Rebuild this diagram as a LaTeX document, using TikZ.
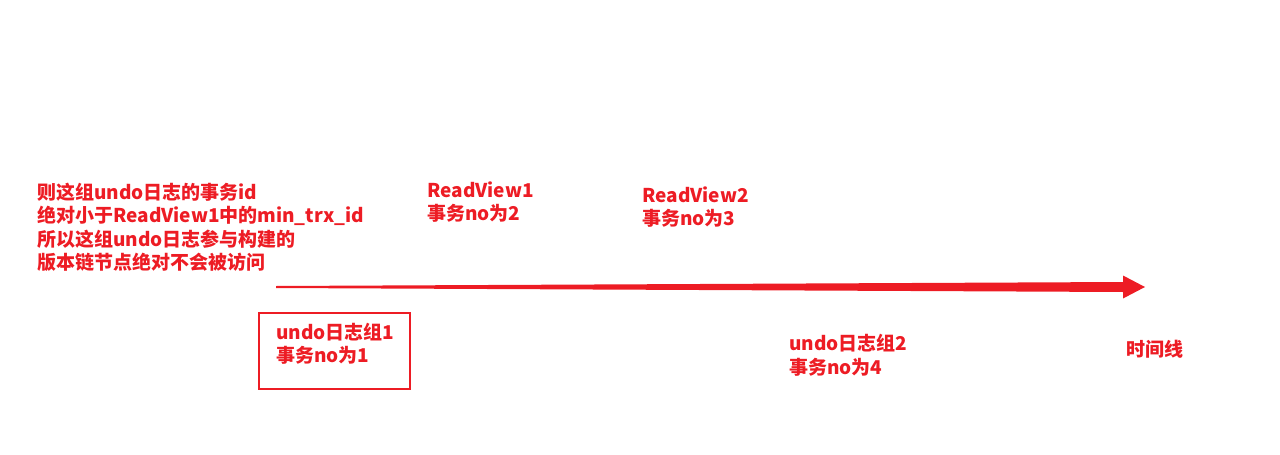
\documentclass[tikz,border=0pt]{standalone}
\usepackage{fontspec}
\setmainfont{Noto Sans CJK SC}
\definecolor{timered}{HTML}{ED1C24}

\begin{document}
\begin{tikzpicture}[x=1pt, y=-1pt,
    every node/.style={font=\bfseries\fontsize{19}{23.5}\selectfont, text=timered, align=left, anchor=base west, inner sep=0pt}]

    \useasboundingbox (0,0) rectangle (1280,455);

    % note on the left (placed by its last line)
    \node (note) at (37,269.5) {则这组undo日志的事务id\\绝对小于ReadView1中的min\_trx\_id\\所以这组undo日志参与构建的\\版本链节点绝对不会被访问};

    % read views
    \node (rv1) at (427,220.5) {ReadView1\\事务no为2};
    \node (rv2) at (642,225.5) {ReadView2\\事务no为3};

    % time line (thin at the start, thicker towards the head)
    \coordinate (tstart) at (276,287);
    \coordinate (ttip) at (1145,287);
    \fill[timered] (276,286) -- (1123,282) -- (1123,275.5) -- (ttip) -- (1123,298.5) -- (1123,292) -- (276,288) -- cycle;

    % undo group 1 with its box
    \node (undo1) at (276,362.5) {undo日志组1\\事务no为1};
    \draw[timered, line width=2pt] (259,313) rectangle (410,389);

    % undo group 2
    \node (undo2) at (789,374) {undo日志组2\\事务no为4};

    % label of the time line
    \node (tline) at (1126,356) {时间线};
\end{tikzpicture}
\end{document}
